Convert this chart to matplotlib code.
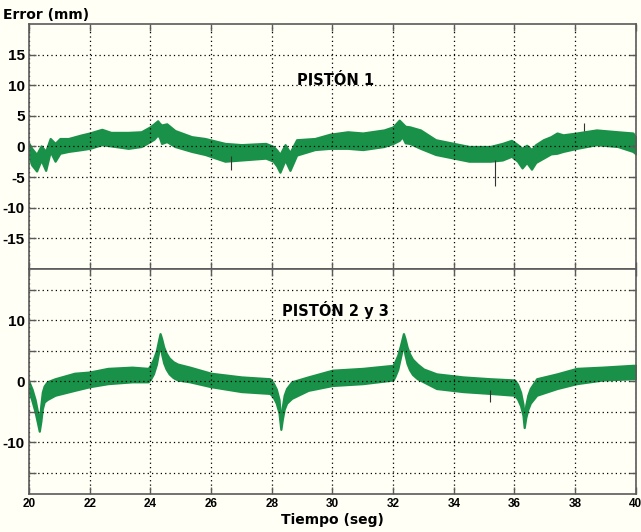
import numpy as np
import matplotlib
matplotlib.use("Agg")
import matplotlib.pyplot as plt

plt.rcParams['axes.unicode_minus'] = False

# PISTON 1 band (upper / lower edge)
t1 = [20.0, 20.09, 20.25, 20.4, 20.55, 20.7, 20.86, 21.02, 21.3, 21.74, 22.0, 22.4,
      22.7, 23.27, 23.7, 23.99, 24.12, 24.24, 24.3, 24.37, 24.54, 24.81, 25.36, 25.8,
      26.46, 27.0, 27.8, 28.05, 28.17, 28.27, 28.44, 28.6, 28.82, 29.42, 29.92, 30.5,
      31.0, 31.7, 32.0, 32.2, 32.3, 32.4, 32.55, 32.9, 33.4, 34.0, 34.5, 35.2,
      35.6, 35.9, 36.1, 36.25, 36.4, 36.56, 36.7, 36.95, 37.2, 37.4, 37.6, 38.05,
      38.7, 39.4, 39.9, 40.0]
up1 = [0.5, -0.3, -1.3, 0.1, -0.8, 1.3, 0.5, 1.3, 1.3, 1.9, 2.2, 2.8,
       2.3, 2.3, 2.4, 3.2, 3.7, 4.2, 3.8, 3.5, 3.7, 2.6, 1.6, 1.3,
       0.5, 0.3, 0.5, 0.0, -0.6, -1.3, 0.3, -1.0, 1.1, 1.3, 2.0, 2.4,
       2.2, 2.7, 3.2, 4.3, 3.8, 3.3, 3.2, 2.7, 1.1, 0.5, 0.0, 0.0,
       0.5, 1.0, 0.3, -0.3, 0.2, -0.5, 0.3, 1.1, 1.6, 2.2, 1.9, 2.2,
       2.7, 2.4, 2.2, 1.5]
lo1 = [-1.6, -3.0, -4.0, -2.2, -3.9, -0.8, -2.4, -1.1, -0.8, -0.5, -0.3, 0.3,
       0.1, -0.3, 0.0, 0.8, 1.2, 1.9, 1.5, 0.5, 0.8, 0.0, -0.8, -1.3,
       -2.4, -2.2, -1.9, -2.4, -3.2, -4.2, -2.2, -3.9, -1.4, -0.5, -0.3, -0.3,
       -0.5, 0.0, 0.5, 1.0, 1.6, 0.6, 0.5, -0.3, -1.3, -1.9, -2.4, -2.4,
       -2.2, -1.6, -2.4, -3.5, -2.6, -3.7, -2.6, -1.9, -1.2, -1.1, -0.8, -0.3,
       0.3, 0.0, -0.8, -1.2]
spk1_t = [26.65, 35.35, 38.3]
spk1_from = [-1.5, -2.2, 2.5]
spk1_to = [-3.9, -6.4, 3.9]

# PISTON 2 y 3 band
t2 = [20.0, 20.1, 20.2, 20.28, 20.34, 20.39, 20.44, 20.5, 20.6, 20.86, 21.5, 22.0,
      22.6, 23.4, 23.93, 24.0, 24.1, 24.2, 24.28, 24.32, 24.37, 24.44, 24.52, 24.62,
      24.75, 24.9, 25.3, 26.0, 27.0, 27.94, 28.05, 28.15, 28.24, 28.3, 28.35, 28.41,
      28.49, 28.66, 29.2, 30.0, 31.0, 32.0, 32.06, 32.15, 32.24, 32.3, 32.34, 32.39,
      32.46, 32.54, 32.64, 32.8, 33.0, 33.43, 34.3, 35.2, 36.0, 36.1, 36.2, 36.28,
      36.32, 36.37, 36.44, 36.52, 36.73, 37.4, 38.05, 38.9, 39.9, 40.0]
up2 = [-0.1, -1.3, -3.0, -5.0, -6.8, -4.0, -1.8, -0.8, -0.1, 0.4, 1.3, 1.5,
       2.1, 2.3, 2.1, 2.6, 3.6, 5.0, 6.9, 7.8, 7.0, 5.6, 4.6, 3.8,
       3.2, 2.8, 2.3, 1.3, 0.7, 0.4, -0.3, -1.3, -3.0, -6.8, -4.2, -2.3,
       -1.2, -0.1, 0.7, 1.8, 2.1, 2.6, 3.2, 4.2, 5.8, 7.0, 7.8, 7.0,
       5.6, 4.5, 3.6, 2.8, 2.0, 1.2, 0.7, 0.4, 0.2, -0.5, -1.8, -3.8,
       -6.5, -4.0, -2.3, -1.2, 0.4, 1.2, 2.1, 2.3, 2.6, 2.6]
lo2 = [-1.7, -3.2, -5.0, -6.8, -8.2, -6.6, -4.5, -3.4, -3.0, -2.3, -1.5, -0.9,
       -0.4, -0.1, -0.1, 0.3, 1.2, 2.8, 5.0, 6.0, 4.5, 3.0, 2.0, 1.2,
       0.6, 0.2, -0.1, -0.9, -1.7, -2.0, -2.6, -3.6, -5.2, -7.9, -6.2, -4.6,
       -3.6, -2.8, -1.5, -0.7, -0.4, 0.2, 0.8, 1.9, 3.9, 5.2, 6.0, 4.4,
       2.9, 1.9, 1.1, 0.4, -0.1, -1.2, -1.7, -2.0, -2.3, -2.9, -4.0, -5.6,
       -7.6, -6.0, -4.6, -3.6, -2.3, -1.2, -0.4, 0.2, 0.4, 0.4]
spk2_t = [35.2]
spk2_from = [-1.5]
spk2_to = [-3.4]

bg = '#fffff5'
green = '#1a9148'
edge = '#5a5a5a'

fig = plt.figure(figsize=(6.41, 5.32), dpi=100, facecolor=bg)
ax1 = fig.add_axes([0.0452, 0.4944, 0.9468, 0.4605], facecolor=bg)
ax2 = fig.add_axes([0.0452, 0.0714, 0.9468, 0.4230], facecolor=bg)

def style(ax):
    ax.set_xlim(20, 40)
    ax.set_xticks(np.arange(20, 41, 2))
    ax.set_yticks(np.arange(-15, 16, 5))
    ax.grid(True, linestyle=(0, (1, 2.5)), color='black', linewidth=0.9)
    ax.tick_params(direction='in', length=5, top=True, right=True, color=edge,
                   width=1, pad=3)
    for s in ax.spines.values():
        s.set_color(edge)
        s.set_linewidth(1.2)

def bold_labels(labels, size):
    for lab in labels:
        lab.set_fontfamily('Liberation Sans')
        lab.set_fontweight('bold')
        lab.set_fontsize(size)

# band is drawn with a thick edge so it looks as fuzzy as the noisy trace
ax1.fill_between(t1, lo1, up1, color=green, linewidth=1.6, edgecolor=green)
ax1.vlines(spk1_t, spk1_from, spk1_to, color='#333333', linewidth=0.8)
ax1.set_ylim(-20, 20)
style(ax1)
ax1.tick_params(labelbottom=False)
bold_labels(ax1.get_yticklabels(), 11)
ax1.text(30.1, 10.8, 'PISTÓN 1', ha='center', va='center', fontsize=10.5,
         fontweight='bold', family='DejaVu Sans')

ax2.fill_between(t2, lo2, up2, color=green, linewidth=1.6, edgecolor=green)
ax2.vlines(spk2_t, spk2_from, spk2_to, color='#333333', linewidth=0.8)
ax2.set_ylim(-18.5, 18.4)
style(ax2)
ax2.set_yticklabels(['', '-10', '', '0', '', '10', ''])
bold_labels(ax2.get_yticklabels(), 11)
bold_labels(ax2.get_xticklabels(), 8.5)
ax2.text(30.1, 11.6, 'PISTÓN 2 y 3', ha='center', va='center', fontsize=10.5,
         fontweight='bold', family='DejaVu Sans')
ax2.set_xlabel('Tiempo (seg)', fontsize=10, fontweight='bold', family='DejaVu Sans',
               labelpad=2)

fig.text(0.005, 0.972, 'Error (mm)', ha='left', va='center', fontsize=10,
         fontweight='bold', family='DejaVu Sans')

fig.savefig('out.png', dpi=100, facecolor=bg)
